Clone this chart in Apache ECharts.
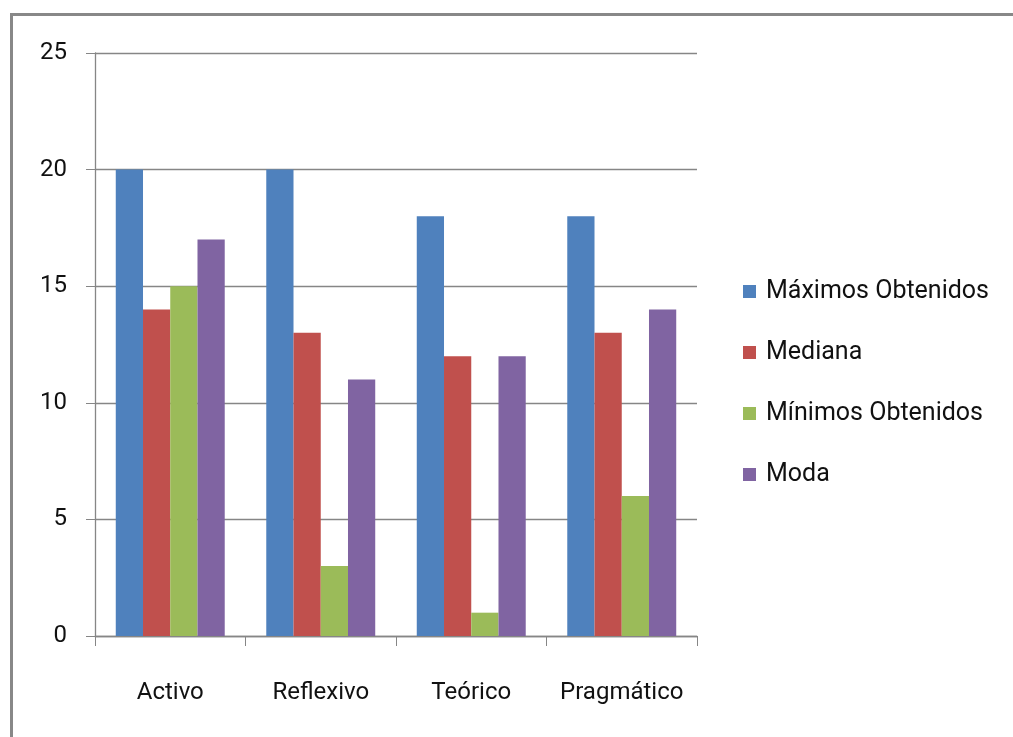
<!DOCTYPE html>
<html>
<head>
<meta charset="utf-8">
<script src="https://cdn.jsdelivr.net/npm/echarts@6/dist/echarts.min.js"></script>
<style>
html,body{margin:0;padding:0;background:#fff;}
#c{width:1013px;height:737px;}
</style>
</head>
<body>
<div id="c"></div>
<script>
const categories = ['Activo', 'Reflexivo', 'Teórico', 'Pragmático'];
const seriesNames = ['Máximos Obtenidos', 'Mediana', 'Mínimos Obtenidos', 'Moda'];
const maximos = [20, 20, 18, 18];
const mediana = [14, 13, 12, 13];
const minimos = [15, 3, 1, 6];
const moda = [17, 11, 12, 14];
const yTicks = [0, 5, 10, 15, 20, 25];

const colors = ['#4F81BD', '#C0504D', '#9BBB59', '#8064A2'];
const values = [maximos, mediana, minimos, moda];
const font = 'Roboto, "Liberation Sans", sans-serif';

const chart = echarts.init(document.getElementById('c'));
chart.setOption({
  animation: false,
  backgroundColor: '#fff',
  graphic: [{
    type: 'rect',
    shape: { x: 11.5, y: 14.5, width: 1100, height: 800 },
    style: { fill: 'none', stroke: '#888888', lineWidth: 3 },
    silent: true
  }],
  grid: { left: 95, top: 53, right: 316, bottom: 101, containLabel: false },
  legend: {
    orient: 'vertical',
    left: 743,
    top: 279,
    padding: 0,
    itemWidth: 13,
    itemHeight: 13,
    itemGap: 36,
    icon: 'rect',
    data: seriesNames,
    textStyle: { fontSize: 25, lineHeight: 25, color: '#111', fontFamily: font, padding: [0, 0, 0, 5] }
  },
  xAxis: {
    type: 'category',
    data: categories,
    axisLine: { lineStyle: { color: '#868686', width: 1.3 } },
    axisTick: { show: true, length: 10, lineStyle: { color: '#868686' } },
    axisLabel: { fontSize: 24, color: '#111', margin: 45, fontFamily: font, interval: 0, hideOverlap: false }
  },
  yAxis: {
    type: 'value',
    min: 0, max: 25, interval: 5,
    axisLine: { show: true, lineStyle: { color: '#868686', width: 1.3 } },
    axisTick: { show: true, length: 9, lineStyle: { color: '#868686' } },
    splitLine: { lineStyle: { color: '#868686', width: 1.3 } },
    axisLabel: { fontSize: 24, color: '#111', margin: 28, fontFamily: font,
      formatter: v => yTicks.includes(v) ? String(v) : '' }
  },
  series: seriesNames.map((n, i) => ({
    name: n,
    type: 'bar',
    data: values[i],
    barGap: '0%',
    barCategoryGap: '27.6%',
    itemStyle: { color: colors[i] }
  }))
});
</script>
</body>
</html>
